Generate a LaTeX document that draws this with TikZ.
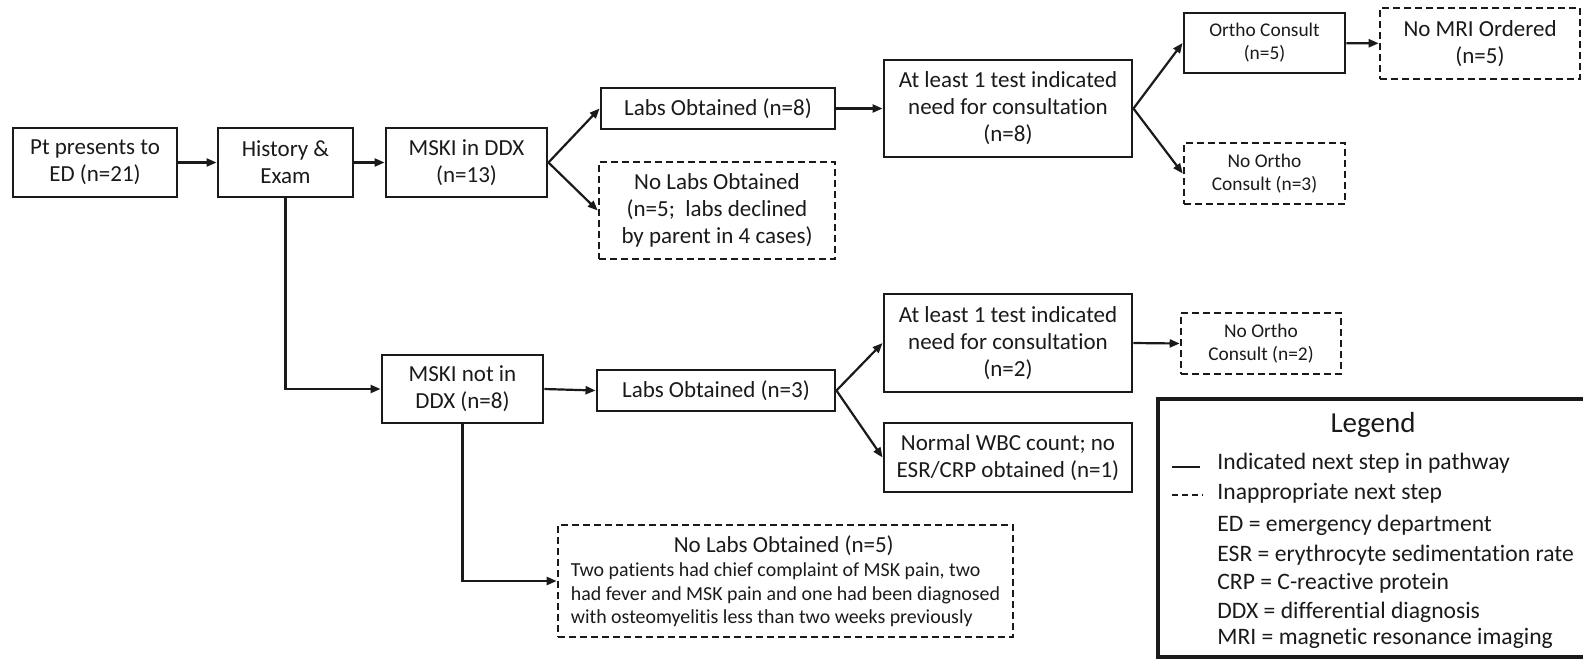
\documentclass[tikz,border=0pt]{standalone}
\usepackage{fontspec}
\setmainfont{Carlito}[Ligatures=NoCommon]
\usetikzlibrary{arrows.meta}
\definecolor{ink}{HTML}{1A1A1A}
\newcommand\mainsz{\fontsize{11.5}{13.5}\selectfont}
\newcommand\smallsz{\fontsize{9.7}{11.6}\selectfont}
\newcommand\notesz{\fontsize{9.95}{11.6}\selectfont}
\newcommand\legsz{\fontsize{14.5}{17}\selectfont}
\newcommand\legitemsz{\fontsize{11.8}{14}\selectfont}
\begin{document}
\begin{tikzpicture}[x=0.5pt,y=-0.5pt,
  box/.style={draw=ink, line width=1.45pt, rectangle, inner sep=0pt,
    align=center, text=ink, font=\mainsz},
  dbox/.style={box, line width=1.3pt, dash pattern=on 3.5pt off 2pt},
  smallbox/.style={font=\smallsz},
  link/.style={draw=ink, line width=1.1pt, -{Triangle[length=5pt,width=4pt]}},
  legtext/.style={anchor=west, inner sep=0pt, text=ink, font=\legitemsz}]
\useasboundingbox (0,0) rectangle (1583,660);
\clip (0,0) rectangle (1583,660);

% upper branch: MSKI considered
\node[box, minimum width=82pt, minimum height=34.5pt] (pt) at (95,162.5)
  {Pt presents to\\ED (n=21)};
\node[box, minimum width=67.5pt, minimum height=34.5pt] (hist) at (285.5,162.5)
  {History \&\\Exam};
\node[box, minimum width=80.5pt, minimum height=34.5pt] (mskin) at (466.5,162.5)
  {MSKI in DDX\\(n=13)};
\node[box, minimum width=117pt, minimum height=20.5pt] (labs8) at (718,108.5)
  {Labs Obtained (n=8)};
\node[dbox, minimum width=118pt, minimum height=48.5pt] (nolabs13) at (717,210.5)
  {No Labs Obtained\\(n=5;~ labs declined\\by parent in 4 cases)};
\node[box, minimum width=124pt, minimum height=48.5pt] (least8) at (1008,108.5)
  {At least 1 test indicated\\need for consultation\\(n=8)};
\node[box, smallbox, minimum width=80.5pt, minimum height=30pt] (ortho) at (1264.5,43)
  {Ortho Consult\\(n=5)};
\node[dbox, minimum width=100pt, minimum height=35.5pt] (nomri) at (1480,43.5)
  {No MRI Ordered\\(n=5)};
\node[dbox, smallbox, minimum width=80.5pt, minimum height=30.5pt] (noortho3) at (1264.5,173.5)
  {No Ortho\\Consult (n=3)};

% lower branch: MSKI not considered
\node[box, minimum width=80.5pt, minimum height=34pt] (msknot) at (462.5,389)
  {MSKI not in\\DDX (n=8)};
\node[box, minimum width=119pt, minimum height=20.5pt] (labs3) at (716,390.5)
  {Labs Obtained (n=3)};
\node[box, minimum width=124pt, minimum height=49pt] (least2) at (1008,343)
  {At least 1 test indicated\\need for consultation\\(n=2)};
\node[box, minimum width=124pt, minimum height=34.5pt] (wbc) at (1008,457.5)
  {Normal WBC count; no\\ESR/CRP obtained (n=1)};
\node[dbox, smallbox, minimum width=80pt, minimum height=30.5pt] (noortho2) at (1261,343.5)
  {No Ortho\\Consult (n=2)};
\node[dbox, font=\notesz, align=left, minimum width=227.5pt, minimum height=56pt] (nolabs5) at (785.5,581)
  {\makebox[213pt][c]{\mainsz No Labs Obtained (n=5)}\\[0.6pt]
   Two patients had chief complaint of MSK pain, two\\
   had fever and MSK pain and one had been diagnosed\\
   with osteomyelitis less than two weeks previously};

% connectors
\draw[link] (pt) -- (hist);
\draw[link] (hist) -- (mskin);
\draw[link] (mskin.east) -- (labs8.west);
\draw[link] (mskin.east) -- (nolabs13.west);
\draw[link] (labs8) -- (least8);
\draw[link] (least8.east) -- (ortho.west);
\draw[link] (least8.east) -- (noortho3.west);
\draw[link] (ortho) -- (nomri);
\draw[link] (hist.south) |- (msknot.west);
\draw[link] (msknot.east) -- (labs3.west);
\draw[link] (labs3.east) -- (least2.west);
\draw[link] (labs3.east) -- (wbc.west);
\draw[link] (least2.east) -- (noortho2.west);
\draw[link] (msknot.south) |- (nolabs5.west);

% legend
\node[draw=ink, line width=1.6pt, minimum width=216pt, minimum height=129pt,
  inner sep=0pt] (legendbox) at (1374,528) {};
\node[inner sep=0pt, text=ink, font=\legsz] (legtitle) at (1373,425) {Legend};
\coordinate (solidA) at (1172,467);
\coordinate (solidB) at (1200,467);
\coordinate (dashA) at (1172,495);
\coordinate (dashB) at (1203,495);
\draw[ink, line width=1.3pt] (solidA) -- (solidB);
\draw[ink, line width=1.3pt, dash pattern=on 3pt off 2pt] (dashA) -- (dashB);
\node[legtext] (legsolid) at (1217,463) {Indicated next step in pathway};
\node[legtext] (legdash) at (1217,493) {Inappropriate next step};
\node[legtext] (leged) at (1217,525) {ED = emergency department};
\node[legtext] (legesr) at (1217,555) {ESR = erythrocyte sedimentation rate};
\node[legtext] (legcrp) at (1217,583) {CRP = C-reactive protein};
\node[legtext] (legddx) at (1217,612) {DDX = differential diagnosis};
\node[legtext] (legmri) at (1217,638) {MRI = magnetic resonance imaging};
\end{tikzpicture}
\end{document}
